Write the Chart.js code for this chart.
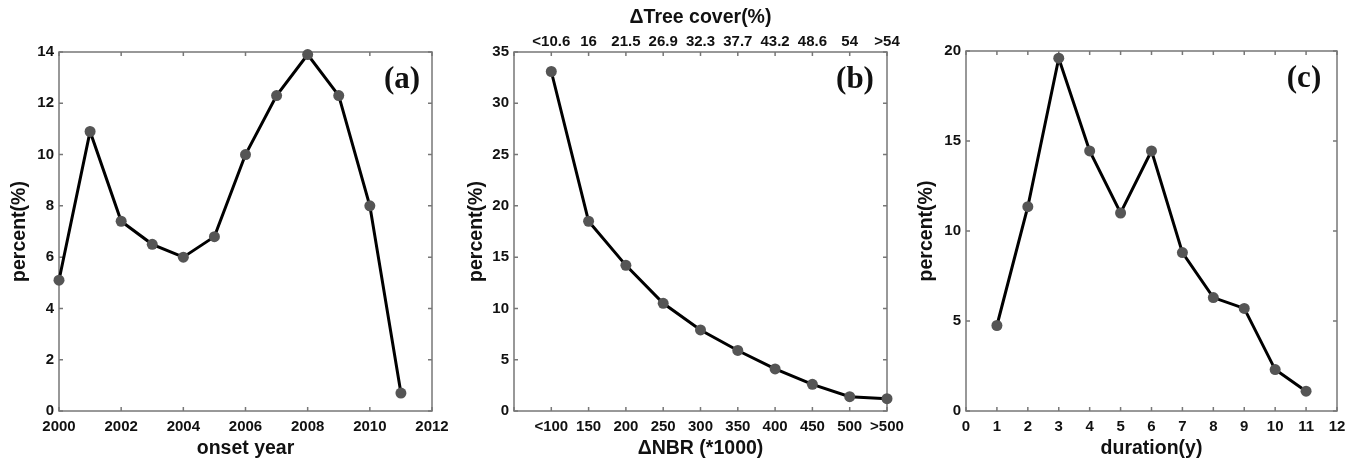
<!DOCTYPE html>
<html>
<head>
<meta charset="utf-8">
<title>Disturbance statistics</title>
<script src="https://cdn.jsdelivr.net/npm/chart.js@4/dist/chart.umd.min.js"></script>
<style>
  html, body { margin: 0; padding: 0; background: #fff; }
  body { width: 1361px; height: 462px; position: relative; overflow: hidden; }
  .panel { position: absolute; top: 0; height: 462px; }
</style>
</head>
<body>
<div class="panel" style="left:0;width:460px"><canvas id="chartA"></canvas></div>
<div class="panel" style="left:460px;width:450px"><canvas id="chartB"></canvas></div>
<div class="panel" style="left:910px;width:451px"><canvas id="chartC"></canvas></div>
<script>
// (a) onset year
const onsetYears = [2000, 2001, 2002, 2003, 2004, 2005, 2006, 2007, 2008, 2009, 2010, 2011];
const onsetPercent = [5.1, 10.9, 7.4, 6.5, 6.0, 6.8, 10.0, 12.3, 13.9, 12.3, 8.0, 0.7];

// (b) dNBR classes, with matching tree cover loss on the top axis
const nbrLabels = ['<100', '150', '200', '250', '300', '350', '400', '450', '500', '>500'];
const treeCoverLabels = ['<10.6', '16', '21.5', '26.9', '32.3', '37.7', '43.2', '48.6', '54', '>54'];
const nbrPercent = [33.1, 18.5, 14.2, 10.5, 7.9, 5.9, 4.1, 2.6, 1.4, 1.2];

// (c) duration
const durationYears = [1, 2, 3, 4, 5, 6, 7, 8, 9, 10, 11];
const durationPercent = [4.75, 11.35, 19.6, 14.45, 11.0, 14.45, 8.8, 6.3, 5.7, 2.3, 1.1];

Chart.defaults.font.family = '"Liberation Sans", Arial, sans-serif';
Chart.defaults.font.weight = 'bold';
Chart.defaults.color = '#111';
Chart.defaults.animation = false;

// box round the plot area with small inward ticks (matlab style)
const framePlugin = {
    id: 'frame',
    beforeDatasetsDraw(chart) {
        const { ctx, chartArea: a } = chart;
        const tl = 4;
        ctx.save();
        ctx.strokeStyle = '#777';
        ctx.lineWidth = 1.5;
        ctx.strokeRect(a.left, a.top, a.width, a.height);
        ctx.beginPath();
        Object.values(chart.scales).forEach(s => {
            s.ticks.forEach(t => {
                const p = s.getPixelForValue(t.value);
                if (s.isHorizontal()) {
                    ctx.moveTo(p, a.bottom); ctx.lineTo(p, a.bottom - tl);
                    ctx.moveTo(p, a.top); ctx.lineTo(p, a.top + tl);
                } else {
                    ctx.moveTo(a.left, p); ctx.lineTo(a.left + tl, p);
                    ctx.moveTo(a.right, p); ctx.lineTo(a.right - tl, p);
                }
            });
        });
        ctx.stroke();
        ctx.restore();
    }
};

// panel letter, (a) (b) (c)
const letterPlugin = {
    id: 'letter',
    afterDraw(chart, args, opts) {
        const { ctx, chartArea: a } = chart;
        ctx.save();
        ctx.font = 'bold 31px "Liberation Serif", "Times New Roman", serif';
        ctx.fillStyle = '#111';
        ctx.textAlign = 'center';
        ctx.textBaseline = 'middle';
        ctx.fillText(opts.text, a.right - opts.dx, a.top + 28);
        ctx.restore();
    }
};

function lineDataset(data) {
    return {
        data: data,
        borderColor: '#000',
        borderWidth: 3,
        pointRadius: 5.5,
        pointBackgroundColor: '#555',
        pointBorderWidth: 0,
        tension: 0,
        clip: false
    };
}

function yAxis(max, step, width, titlePad) {
    return {
        position: 'left',
        min: 0, max: max,
        ticks: { stepSize: step, padding: 5, font: { size: 15 } },
        grid: { display: false, drawTicks: false },
        border: { display: false },
        title: { display: true, text: 'percent(%)', font: { size: 19.5 }, padding: { top: titlePad } },
        afterFit(s) { s.width = width; }
    };
}

function xAxis(min, max, step, title, labels) {
    return {
        type: 'linear',
        position: 'bottom',
        min: min, max: max,
        ticks: {
            stepSize: step, padding: 7, font: { size: 15 }, autoSkip: false, maxRotation: 0,
            callback: labels ? (v => labels[v - 1] || '') : (v => v)
        },
        grid: { display: false, drawTicks: false },
        border: { display: false },
        title: { display: true, text: title, font: { size: 19.5 }, padding: { bottom: 2 } },
        afterFit(s) { s.height = 51; s.paddingLeft = 0; s.paddingRight = 0; }
    };
}

const basePlugins = { legend: { display: false }, tooltip: { enabled: false } };

// (a)
new Chart(document.getElementById('chartA'), {
    type: 'line',
    data: { datasets: [lineDataset(onsetYears.map((y, i) => ({ x: y, y: onsetPercent[i] })))] },
    options: {
        responsive: true, maintainAspectRatio: false,
        layout: { padding: { top: 52, right: 28, left: 0, bottom: 0 } },
        scales: {
            x: xAxis(2000, 2012, 2, 'onset year'),
            y: yAxis(14, 2, 59, 8)
        },
        plugins: Object.assign({ letter: { text: '(a)', dx: 30 } }, basePlugins)
    },
    plugins: [framePlugin, letterPlugin]
});

// (b)
const xTop = xAxis(0, 10, 1, '\u0394Tree cover(%)', treeCoverLabels);
xTop.position = 'top';
xTop.ticks.padding = 1;
xTop.title.padding = { top: 6 };
xTop.afterFit = s => { s.height = 52; s.paddingLeft = 0; s.paddingRight = 0; };

new Chart(document.getElementById('chartB'), {
    type: 'line',
    data: { datasets: [lineDataset(nbrPercent.map((v, i) => ({ x: i + 1, y: v })))] },
    options: {
        responsive: true, maintainAspectRatio: false,
        layout: { padding: { top: 0, right: 23, left: 0, bottom: 0 } },
        scales: {
            x: xAxis(0, 10, 1, '\u0394NBR (*1000)', nbrLabels),
            x2: xTop,
            y: yAxis(35, 5, 54, 5)
        },
        plugins: Object.assign({ letter: { text: '(b)', dx: 32 } }, basePlugins)
    },
    plugins: [framePlugin, letterPlugin]
});

// (c)
new Chart(document.getElementById('chartC'), {
    type: 'line',
    data: { datasets: [lineDataset(durationYears.map((d, i) => ({ x: d, y: durationPercent[i] })))] },
    options: {
        responsive: true, maintainAspectRatio: false,
        layout: { padding: { top: 51, right: 24, left: 0, bottom: 0 } },
        scales: {
            x: xAxis(0, 12, 1, 'duration(y)'),
            y: yAxis(20, 5, 56, 5)
        },
        plugins: Object.assign({ letter: { text: '(c)', dx: 33 } }, basePlugins)
    },
    plugins: [framePlugin, letterPlugin]
});
</script>
</body>
</html>
